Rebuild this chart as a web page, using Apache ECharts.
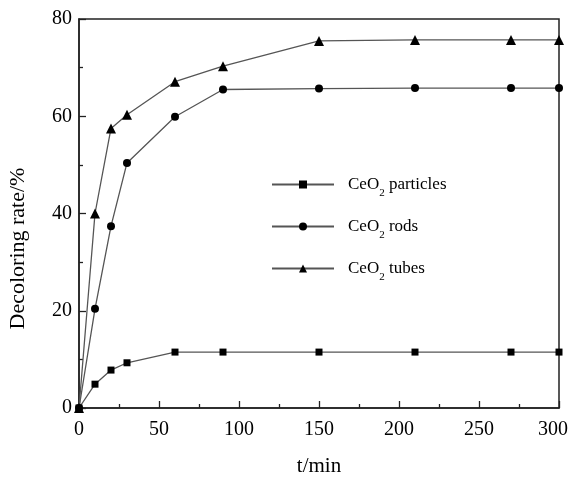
<!DOCTYPE html>
<html>
<head>
<meta charset="utf-8">
<script src="https://cdn.jsdelivr.net/npm/echarts@6/dist/echarts.min.js"></script>
<style>
  html, body { margin: 0; padding: 0; background: #fff; }
  #main { width: 571px; height: 477px; }
</style>
</head>
<body>
<div id="main"></div>
<script>
// time points (min)
var times = [0, 10, 20, 30, 60, 90, 150, 210, 270, 300]
// decoloring rate (%)
var particles = [0, 4.9, 7.8, 9.3, 11.5, 11.5, 11.5, 11.5, 11.5, 11.5]
var rods = [0, 20.4, 37.4, 50.4, 59.9, 65.5, 65.7, 65.8, 65.8, 65.8]
var tubes = [0, 40.0, 57.5, 60.3, 67.1, 70.3, 75.5, 75.7, 75.7, 75.7]
var seriesNames = ['CeO2 particles', 'CeO2 rods', 'CeO2 tubes']

var font = 'Liberation Serif'
var ink = '#222'

function pairs (ys) {
  return times.map(function (t, i) { return [t, ys[i]] })
}

function lineSeries (name, ys, symbol, size) {
  return {
    name: name,
    type: 'line',
    data: pairs(ys),
    symbol: symbol,
    symbolSize: size,
    lineStyle: { color: '#555', width: 1.3 },
    itemStyle: { color: '#000' }
  }
}

var chart = echarts.init(document.getElementById('main'))
chart.setOption({
  animation: false,
  backgroundColor: '#fff',
  grid: {
    left: 79, right: 12, top: 19, bottom: 69,
    outerBoundsMode: 'none',
    show: true, borderColor: ink, borderWidth: 1.5
  },
  legend: {
    orient: 'vertical',
    left: 271, top: 176, padding: 0,
    itemWidth: 62, itemHeight: 10, itemGap: 19.5,
    data: seriesNames,
    formatter: function (name) {
      // CeO2 with subscript 2
      return '{f|CeO}{s|2}{b| ' + name.split(' ')[1] + '}'
    },
    textStyle: {
      fontFamily: font, fontSize: 17, color: '#000',
      rich: {
        f: { fontFamily: font, fontSize: 17, color: '#000', lineHeight: 22, padding: [0, 0, 0, 9] },
        b: { fontFamily: font, fontSize: 17, color: '#000', lineHeight: 22, padding: 0 },
        s: { fontFamily: font, fontSize: 11, color: '#000', verticalAlign: 'bottom', padding: [0, 0, -3, 0] }
      }
    }
  },
  xAxis: {
    type: 'value', min: 0, max: 300, interval: 50,
    name: 't/min', nameLocation: 'middle', nameGap: 48,
    nameTextStyle: { fontFamily: font, fontSize: 21, color: '#000' },
    axisLine: { lineStyle: { color: ink, width: 1.5 } },
    axisTick: { inside: true, length: 7, lineStyle: { color: ink, width: 1.3 } },
    minorTick: { show: true, splitNumber: 2, length: 4, lineStyle: { color: ink, width: 1.3 } },
    axisLabel: {
      fontFamily: font, fontSize: 20, color: '#000', margin: 12,
      formatter: function (v) { return v === 300 ? '{m|300}' : String(v) },
      rich: { m: { fontFamily: font, fontSize: 20, color: '#000', padding: [0, 12, 0, 0] } }
    },
    splitLine: { show: false }
  },
  yAxis: {
    type: 'value', min: 0, max: 80, interval: 20,
    name: 'Decoloring rate/%', nameLocation: 'middle', nameGap: 50,
    nameTextStyle: { fontFamily: font, fontSize: 22, color: '#000', padding: [0, 70, 0, 0] },
    axisLine: { lineStyle: { color: ink, width: 1.5 } },
    axisTick: { inside: true, length: 7, lineStyle: { color: ink, width: 1.3 } },
    minorTick: { show: true, splitNumber: 2, length: 4, lineStyle: { color: ink, width: 1.3 } },
    axisLabel: { fontFamily: font, fontSize: 20, color: '#000', margin: 7 },
    splitLine: { show: false }
  },
  series: [
    lineSeries(seriesNames[0], particles, 'rect', 7),
    lineSeries(seriesNames[1], rods, 'circle', 8),
    lineSeries(seriesNames[2], tubes, 'triangle', 10)
  ]
})
</script>
</body>
</html>
